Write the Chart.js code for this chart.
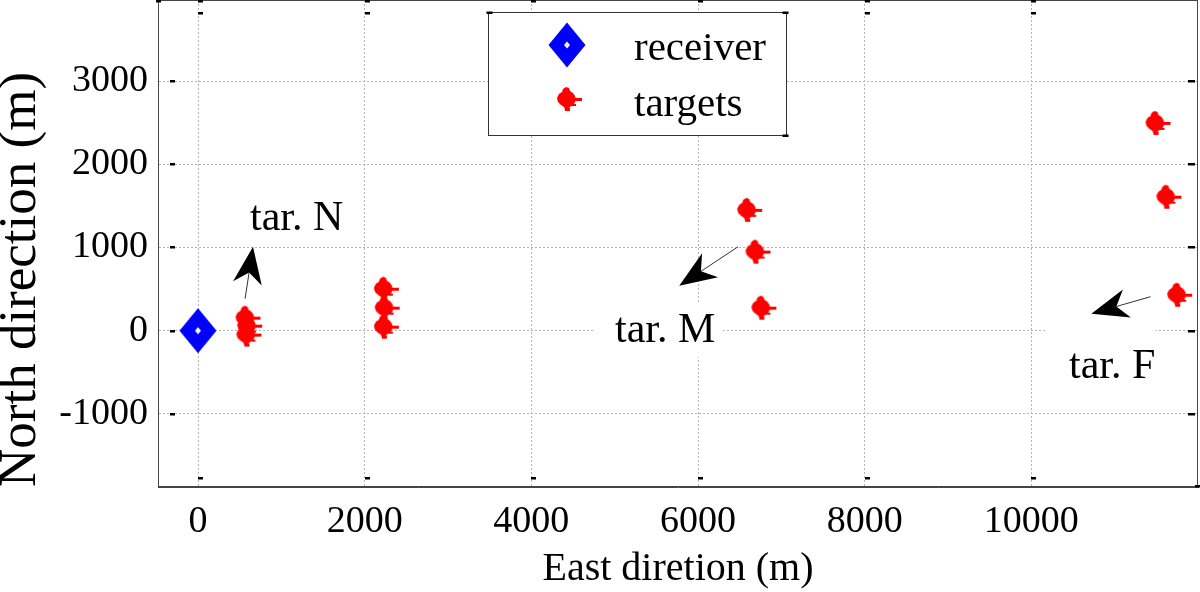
<!DOCTYPE html>
<html>
<head>
<meta charset="utf-8">
<style>
html,body{margin:0;padding:0;background:#fff;}
#wrap{width:1200px;height:592px;position:relative;}
</style>
<script src="https://cdn.jsdelivr.net/npm/chart.js@4.4.1/dist/chart.umd.min.js"></script>
</head>
<body>
<div id="wrap"><canvas id="c" width="1200" height="592"></canvas></div>
<script>
// ---- data ----
const xTicks = [0, 2000, 4000, 6000, 8000, 10000];
const yTicks = [-1000, 0, 1000, 2000, 3000];
const receiverX = [0];
const receiverY = [0];
const targetX = [570, 590, 580, 2230, 2240, 2230, 6590, 6690, 6760, 11490, 11620, 11750];
const targetY = [156, 60, -48, 504, 276, 48, 1452, 950, 276, 2497, 1610, 432];
const legendLabels = ['receiver', 'targets'];
const annotationLabels = ['tar. N', 'tar. M', 'tar. F'];
// annotation anchors in data units: text (left, baseline), arrow tail & tip
const annTextX = [624, 5004, 10452];
const annTextY = [1209, -137, -570];
const annTailX = [565, 6480, 11430];
const annTailY = [384, 1008, 408];
const annTipX = [660, 5775, 10720];
const annTipY = [1008, 540, 204];
// white boxes behind M and F labels (data units)
const annBoxX0 = [null, 4760, 10170];
const annBoxX1 = [null, 6285, 11490];
const annBoxY0 = [null, -320, -830];
const annBoxY1 = [null, 345, 130];

const FONT = "'Liberation Serif', 'Times New Roman', serif";

// ---- marker images ----
function makeDiamond(){
  const cv = document.createElement('canvas');
  cv.width = 38; cv.height = 46;
  const g = cv.getContext('2d');
  g.fillStyle = '#0000ff';
  g.beginPath();
  g.moveTo(19,0.5); g.lineTo(37.5,23); g.lineTo(19,45.5); g.lineTo(0.5,23); g.closePath();
  g.fill();
  g.fillStyle = '#ffffff';
  g.beginPath();
  g.moveTo(19,19.5); g.lineTo(22,23); g.lineTo(19,26.5); g.lineTo(16,23); g.closePath();
  g.fill();
  g.fillStyle = '#a8a8ff';
  g.fillRect(18.5,22.5,1,1);
  return cv;
}
function makeStar(){
  const cv = document.createElement('canvas');
  cv.width = 42; cv.height = 28;
  const g = cv.getContext('2d');
  g.fillStyle = '#ff0000';
  g.beginPath();
  g.moveTo(20,2); g.lineTo(23,3); g.lineTo(24,6); g.lineTo(27,8); g.lineTo(29,11);
  g.lineTo(30,15); g.lineTo(28,19); g.lineTo(25,21); g.lineTo(23,23); g.lineTo(22,26);
  g.lineTo(19,25); g.lineTo(18,22); g.lineTo(15,20); g.lineTo(12,17); g.lineTo(11,13);
  g.lineTo(13,9); g.lineTo(16,7); g.lineTo(17,4); g.closePath();
  g.fill();
  g.fillRect(28,13,8,3);
  g.fillRect(25,19,5,2);
  g.fillRect(19,23,5,3);
  return cv;
}
const diamondImg = makeDiamond();
const starImg = makeStar();

// ---- plugins ----
const decorPlugin = {
  id: 'decor',
  afterDatasetsDraw(chart){
    const ctx = chart.ctx, xs = chart.scales.x, ys = chart.scales.y, a = chart.chartArea;
    ctx.save();
    ctx.fillStyle = '#ffffff';
    for (let i = 0; i < annotationLabels.length; i++){
      if (annBoxX0[i] === null) continue;
      const x0 = xs.getPixelForValue(annBoxX0[i]), x1 = xs.getPixelForValue(annBoxX1[i]);
      const y0 = ys.getPixelForValue(annBoxY1[i]), y1 = ys.getPixelForValue(annBoxY0[i]);
      ctx.fillRect(x0, y0, x1 - x0, y1 - y0);
    }
    ctx.fillStyle = '#000';
    ctx.font = '42px ' + FONT;
    ctx.textAlign = 'left';
    ctx.textBaseline = 'alphabetic';
    for (let i = 0; i < annotationLabels.length; i++){
      ctx.fillText(annotationLabels[i], xs.getPixelForValue(annTextX[i]), ys.getPixelForValue(annTextY[i]));
    }
    for (let i = 0; i < annotationLabels.length; i++){
      const tx = xs.getPixelForValue(annTailX[i]), ty = ys.getPixelForValue(annTailY[i]);
      const px = xs.getPixelForValue(annTipX[i]), py = ys.getPixelForValue(annTipY[i]);
      const dx = px - tx, dy = py - ty, len = Math.hypot(dx, dy);
      const ux = dx/len, uy = dy/len, nx = -uy, ny = ux;
      const L = 37, W = 14.5, N = 26;
      const bx = px - ux*L, by = py - uy*L;
      const cx = px - ux*N, cy = py - uy*N;
      ctx.strokeStyle = '#333';
      ctx.lineWidth = 1;
      ctx.beginPath(); ctx.moveTo(tx, ty); ctx.lineTo(cx, cy); ctx.stroke();
      ctx.fillStyle = '#000';
      ctx.beginPath();
      ctx.moveTo(px, py);
      ctx.lineTo(bx + nx*W, by + ny*W);
      ctx.lineTo(cx, cy);
      ctx.lineTo(bx - nx*W, by - ny*W);
      ctx.closePath();
      ctx.fill();
    }
    // frame
    ctx.strokeStyle = '#444';
    ctx.lineWidth = 1;
    ctx.strokeRect(Math.round(a.left)+0.5, Math.round(a.top)+0.5, Math.round(a.right - a.left)-1, Math.round(a.bottom - a.top)-1);
    // small tick dashes
    ctx.fillStyle = '#000';
    yTicks.forEach(v => {
      const y = Math.round(ys.getPixelForValue(v));
      ctx.fillRect(a.left + 12, y - 1, 5, 2.5);
      ctx.fillRect(a.right - 10, y - 1, 7, 2.5);
    });
    xTicks.forEach(v => {
      const x = Math.round(xs.getPixelForValue(v));
      ctx.fillRect(x, a.bottom - 10, 5, 2.5);
      ctx.fillRect(x, a.top, 5, 2.5);
      ctx.fillRect(x, a.top + 12, 5, 2.5);
    });
    ctx.fillRect(a.left - 2, a.top, 5, 2.5);
    ctx.fillRect(a.right - 3, a.bottom - 2, 5, 2.5);
    // legend
    const lx = 488.5, ly = 12.5, lw = 298, lh = 123;
    ctx.fillStyle = '#fff';
    ctx.fillRect(lx, ly, lw, lh);
    ctx.strokeStyle = '#333';
    ctx.strokeRect(lx, ly, lw, lh);
    ctx.fillStyle = '#000';
    ctx.fillRect(lx - 2, ly - 1, 6, 2.5);
    ctx.fillRect(lx + lw - 4, ly - 1, 6, 2.5);
    ctx.fillRect(lx + lw - 4, ly + lh - 1, 6, 2.5);
    ctx.drawImage(diamondImg, 567 - diamondImg.width/2, 45 - diamondImg.height/2);
    ctx.drawImage(starImg, 567 - starImg.width/2, 99 - starImg.height/2);
    ctx.fillStyle = '#000';
    ctx.font = '41px ' + FONT;
    ctx.textBaseline = 'alphabetic';
    ctx.fillText(legendLabels[0], 634, 60);
    ctx.fillText(legendLabels[1], 634, 116);
    ctx.restore();
  }
};

function gridOpts(){
  return {color: '#b4b4b4', lineWidth: 1, drawTicks: false};
}

new Chart(document.getElementById('c'), {
  type: 'scatter',
  data: {
    datasets: [
      {
        label: legendLabels[0],
        data: receiverX.map((x, i) => ({x: x, y: receiverY[i]})),
        pointStyle: diamondImg,
        pointRadius: 20,
        showLine: false
      },
      {
        label: legendLabels[1],
        data: targetX.map((x, i) => ({x: x, y: targetY[i]})),
        pointStyle: starImg,
        pointRadius: 14,
        showLine: false
      }
    ]
  },
  options: {
    responsive: false,
    animation: false,
    devicePixelRatio: 1,
    layout: {autoPadding: false, padding: {top: 0, right: 2, left: 0, bottom: 0}},
    plugins: {legend: {display: false}, tooltip: {enabled: false}},
    scales: {
      x: {
        type: 'linear',
        min: -480, max: 12000,
        afterBuildTicks: s => { s.ticks = xTicks.map(v => ({value: v})); },
        afterFit: s => { s.height = 105; s.paddingLeft = 0; s.paddingRight = 0; },
        grid: gridOpts(),
        border: {display: true, color: '#444', width: 1, dash: [2, 2]},
        ticks: {
          color: '#000', font: {family: FONT, size: 38}, padding: 12,
          maxRotation: 0, autoSkip: false,
          callback: v => String(v)
        },
        title: {
          display: true, text: 'East diretion (m)', color: '#000',
          font: {family: FONT, size: 40, lineHeight: 1}, padding: {top: 0, bottom: 3}
        }
      },
      y: {
        type: 'linear',
        min: -1880, max: 3975,
        afterBuildTicks: s => { s.ticks = yTicks.map(v => ({value: v})); },
        afterFit: s => { s.width = 158; s.paddingTop = 0; s.paddingBottom = 0; },
        grid: gridOpts(),
        border: {display: true, color: '#444', width: 1, dash: [2, 2]},
        ticks: {
          color: '#000', font: {family: FONT, size: 38}, padding: 10,
          autoSkip: false,
          callback: v => String(v)
        },
        title: {
          display: true, text: 'North direction (m)', color: '#000', align: 'start',
          font: {family: FONT, size: 53, lineHeight: 1}, padding: {top: -5, bottom: 0}
        }
      }
    }
  },
  plugins: [decorPlugin]
});
</script>
</body>
</html>
